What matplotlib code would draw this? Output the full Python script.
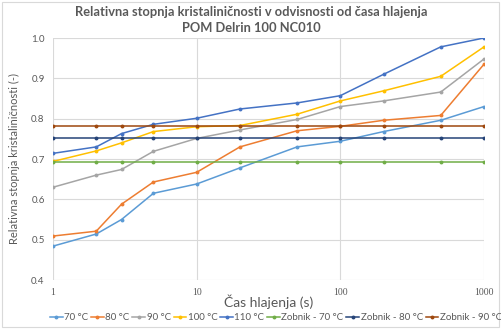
import matplotlib
matplotlib.use("Agg")
import matplotlib.pyplot as plt
from matplotlib.patches import Rectangle

plt.rcParams['font.family'] = ['Lato', 'DejaVu Sans']

# Cooling time (s)
cas = [1, 2, 3, 5, 10, 20, 50, 100, 200, 500, 1000]

# Relative crystallinity per mould temperature
t70 = [0.484, 0.514, 0.550, 0.615, 0.638, 0.678, 0.730, 0.744, 0.768, 0.796, 0.830]
t80 = [0.509, 0.521, 0.588, 0.643, 0.667, 0.730, 0.770, 0.781, 0.796, 0.808, 0.935]
t90 = [0.630, 0.660, 0.674, 0.719, 0.751, 0.772, 0.798, 0.830, 0.844, 0.866, 0.948]
t100 = [0.694, 0.720, 0.740, 0.768, 0.780, 0.783, 0.811, 0.844, 0.869, 0.905, 0.978]
t110 = [0.714, 0.730, 0.763, 0.786, 0.801, 0.824, 0.839, 0.857, 0.910, 0.978, 1.000]

# Reference values measured on the gear (Zobnik)
zobnik70 = 0.692
zobnik80 = 0.751
zobnik90 = 0.781

series = [
    ("70 °C", t70, "#5B9BD5"),
    ("80 °C", t80, "#ED7D31"),
    ("90 °C", t90, "#A5A5A5"),
    ("100 °C", t100, "#FFC000"),
    ("110 °C", t110, "#4472C4"),
    ("Zobnik - 70 °C", [zobnik70] * len(cas), "#70AD47"),
    ("Zobnik - 80 °C", [zobnik80] * len(cas), "#264478"),
    ("Zobnik - 90 °C", [zobnik90] * len(cas), "#9E480E"),
]

fig = plt.figure(figsize=(5.02, 3.30), dpi=100)
ax = fig.add_axes([53 / 502, 50 / 330, 431 / 502, 242 / 330])

handles = []
for label, vals, col in series:
    h, = ax.plot(cas, vals, color=col, lw=1.1, marker="o", ms=2.8,
                 markeredgewidth=0, label=label, zorder=3)
    handles.append(h)

ax.set_xscale("log")
ax.set_xlim(1, 1000)
ax.set_ylim(0.4, 1.0)
ax.set_xticks([1, 10, 100, 1000])
ax.set_xticklabels(["1", "10", "100", "1000"], family=["Liberation Serif"])
ax.minorticks_off()
ax.set_yticks([0.4, 0.5, 0.6, 0.7, 0.8, 0.9, 1.0])
ax.set_yticklabels(["%.1f" % v for v in ax.get_yticks()])
ax.grid(True, color="#D9D9D9", lw=0.8, zorder=0)
for s in ax.spines.values():
    s.set_visible(False)
ax.tick_params(length=0, labelsize=7, colors="#595959", pad=6)

ax.set_xlabel("Čas hlajenja (s)", fontsize=10, color="#595959", labelpad=-2)
ax.set_ylabel("Relativna stopnja kristaliničnosti (-)", fontsize=8,
              color="#595959", labelpad=8)

fig.suptitle("Relativna stopnja kristaliničnosti v odvisnosti od časa hlajenja\nPOM Delrin 100 NC010",
             x=251 / 502, y=1 - 6 / 330, va="top", fontsize=9.3, fontweight="bold",
             color="#595959", linespacing=1.35)

leg = fig.legend(handles=handles, loc="center", bbox_to_anchor=(276 / 502, 1 - 318 / 330),
                 ncol=8, frameon=False, fontsize=7, handlelength=1.3,
                 handletextpad=0.15, columnspacing=0.3, borderpad=0)
for t in leg.get_texts():
    t.set_color("#595959")

fig.patches.append(Rectangle((2 / 502, 3 / 330), 497 / 502, 325 / 330,
                             transform=fig.transFigure, fill=False,
                             edgecolor="#D9D9D9", lw=0.8))

fig.savefig("out.png", dpi=100)
